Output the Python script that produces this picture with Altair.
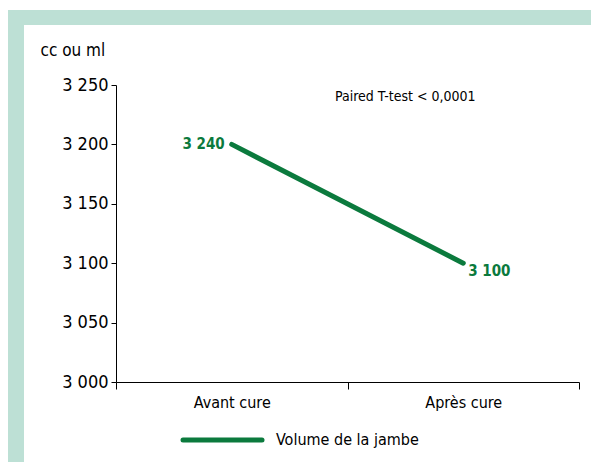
import altair as alt
import pandas as pd

# ---- data ----
categories = ["Avant cure", "Après cure"]
volume = [3200, 3100]
point_labels = ["3 240", "3 100"]
series_name = "Volume de la jambe"
y_ticks = [3000, 3050, 3100, 3150, 3200, 3250]

FONT = "Liberation Sans Narrow, DejaVu Sans Condensed, sans-serif"
GREEN = "#0b7a3d"
FRAME = "#bde0d5"

W, H = 463, 297

df = pd.DataFrame({"cat": categories, "vol": volume, "lab": point_labels})
one = pd.DataFrame({"a": [0]})

xscale = alt.Scale(domain=categories, paddingInner=0, paddingOuter=0)
yscale = alt.Scale(domain=[3000, 3250])
xenc = alt.X("cat:N", scale=xscale, sort=categories,
             axis=alt.Axis(title=None, tickBand="extent", tickSize=7, labelAngle=0,
                           labelFontSize=16, labelPadding=5, grid=False,
                           domainColor="black", tickColor="black"))
yenc = alt.Y("vol:Q", scale=yscale,
             axis=alt.Axis(values=y_ticks, grid=False, tickSize=5, labelPadding=3,
                           labelExpr="replace(format(datum.value, ','), ',', ' ')",
                           title="cc ou ml", titleAngle=0, titleAlign="left",
                           titleBaseline="middle", titleX=-76, titleY=-35,
                           domainColor="black", tickColor="black"))

frame_top = alt.Chart(one).mark_rect(color=FRAME).encode(
    x=alt.value(-108), x2=alt.value(W + 12), y=alt.value(-75), y2=alt.value(-60))
frame_left = alt.Chart(one).mark_rect(color=FRAME).encode(
    x=alt.value(-108), x2=alt.value(-92), y=alt.value(-75), y2=alt.value(H + 80))

line = alt.Chart(df).mark_line(strokeWidth=5, strokeCap="round", color=GREEN).encode(
    x=xenc, y=yenc)

lab1 = alt.Chart(df.iloc[[0]]).mark_text(
    align="right", baseline="middle", dx=-7, dy=0, fontSize=15, fontWeight="bold",
    color=GREEN, font=FONT).encode(x=xenc, y=yenc, text="lab:N")
lab2 = alt.Chart(df.iloc[[1]]).mark_text(
    align="left", baseline="middle", dx=5, dy=8, fontSize=15, fontWeight="bold",
    color=GREEN, font=FONT).encode(x=xenc, y=yenc, text="lab:N")

ttest = alt.Chart(one).mark_text(
    align="left", baseline="middle", fontSize=14, font=FONT, color="black",
    text="Paired T-test < 0,0001").encode(x=alt.value(219), y=alt.value(12))

# legend
leg_line = alt.Chart(one).mark_rule(strokeWidth=5, strokeCap="round", color=GREEN).encode(
    x=alt.value(67), x2=alt.value(146), y=alt.value(355))
leg_text = alt.Chart(one).mark_text(
    align="left", baseline="middle", fontSize=16, font=FONT, color="black",
    text=series_name).encode(x=alt.value(160), y=alt.value(355))

chart = alt.layer(frame_top, frame_left, line, lab1, lab2, ttest, leg_line, leg_text).properties(
    width=W, height=H, autosize=alt.AutoSizeParams(type="none"),
    padding={"left": 108, "top": 77, "right": 12, "bottom": 80},
    background="white",
).configure_view(stroke=None).configure_axis(
    labelFont=FONT, titleFont=FONT, labelFontSize=18, titleFontSize=17,
    labelColor="black", titleColor="black", titleFontWeight="normal",
    domainWidth=1, tickWidth=1,
)

chart.save("out.html", embed_options={"renderer": "svg", "actions": False})
